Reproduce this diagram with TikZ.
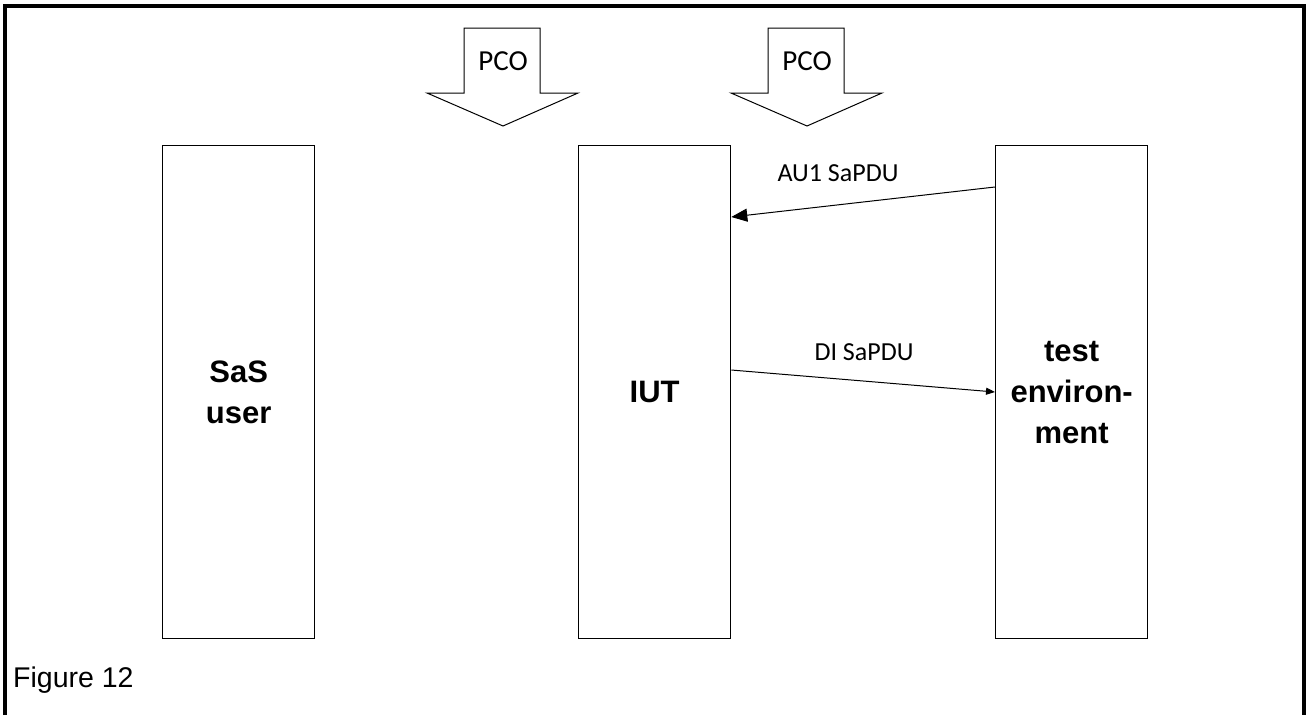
\documentclass[tikz,border=0pt]{standalone}
\usepackage{fontspec}
\setmainfont{Liberation Sans}
\newfontfamily\carlitofont{Carlito}
\usetikzlibrary{arrows.meta}
\begin{document}
\begin{tikzpicture}[x=1pt,y=-1pt,
  box/.style={draw,line width=1.3pt,minimum width=152pt,minimum height=493pt,inner sep=0pt,anchor=north west,font=\fontsize{31}{41}\selectfont\bfseries,align=center},
  lbl/.style={font=\carlitofont\fontsize{26}{30}\selectfont,inner sep=0pt},
  pco/.style={draw,line width=1pt,line join=miter},
  msg/.style={line width=1pt}]
\useasboundingbox (0,0) rectangle (1308,715);
\fill[white] (0,0) rectangle (1308,715);
% frame
\draw[line width=4pt] (5,715) -- (5,6) -- (1304,6) -- (1304,715);
% boxes
\node[box] (sas) at (162,145) {SaS\\user};
\node[box] (iut) at (578,145) {IUT};
\node[box] (te) at (995,145) {test\\environ-\\ment};
% PCO arrows
\foreach \dx/\n in {0/p1,304/p2}{
  \draw[pco] (464+\dx,28) -- (540+\dx,28) -- (540+\dx,93) -- (578+\dx,93) -- (503+\dx,126) -- (427+\dx,93) -- (464+\dx,93) -- cycle;
  \node[lbl,font=\carlitofont\fontsize{29}{30}\selectfont] (\n) at (503+\dx,61) {PCO};
}
% messages
\coordinate (a1s) at ([yshift=-42pt]te.north west);
\coordinate (a1e) at ([yshift=-72pt]iut.north east);
\draw[msg,-{Triangle[length=16pt,width=13pt]}] (a1s) -- (a1e);
\node[lbl] (a1l) at (838,173) {AU1 SaPDU};
\coordinate (dis) at ([yshift=-225pt]iut.north east);
\coordinate (die) at ([yshift=-247pt]te.north west);
\draw[msg,-{Triangle[length=9pt,width=7pt]}] (dis) -- (die);
\node[lbl] (dil) at (864,352) {DI SaPDU};
% caption
\node[font=\fontsize{28.5}{30}\selectfont,anchor=base west,inner sep=0pt] (cap) at (13,687) {Figure 12};
\end{tikzpicture}
\end{document}
